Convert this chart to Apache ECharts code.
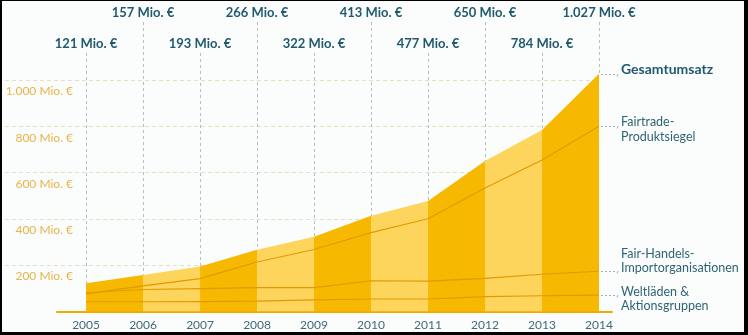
<!DOCTYPE html>
<html>
<head>
<meta charset="utf-8">
<script src="https://cdn.jsdelivr.net/npm/echarts@6/dist/echarts.min.js"></script>
<style>
  html, body { margin: 0; padding: 0; background: #fbfdfd; }
  #chart { width: 748px; height: 335px; }
</style>
</head>
<body>
<div id="chart"></div>
<script>
// Umsatz mit fair gehandelten Produkten in Deutschland, Mio. €
const years = [2005, 2006, 2007, 2008, 2009, 2010, 2011, 2012, 2013, 2014];
const totalSales = [121, 157, 193, 266, 322, 413, 477, 650, 784, 1027];
const fairtradeSeal = [75, 110, 141, 213, 267, 340, 400, 533, 654, 800];
const importOrgs = [80, 94, 98, 102, 102, 132, 130, 142, 160, 173];
const worldShops = [41, 41, 42, 44, 49, 53, 53, 63, 67, 70];
const yTicks = [200, 400, 600, 800, 1000];
const seriesNames = [
  'Gesamtumsatz',
  'Fairtrade-\nProduktsiegel',
  'Fair-Handels-\nImportorganisationen',
  'Weltläden &\nAktionsgruppen'
];

const DARK = '#f6b800';
const LIGHT = '#fdd55c';
const LINE = '#e39a00';
const TEAL = '#215a6e';
const TEXT = '#2f6474';

// German thousands separator
function fmt(n) {
  return String(n).replace(/\B(?=(\d{3})+(?!\d))/g, '.');
}

// Alternating bands: one filled segment per year interval
const bandSeries = years.slice(0, -1).map((y, i) => ({
  type: 'line',
  xAxisIndex: 1,
  yAxisIndex: 1,
  clip: false,
  silent: true,
  symbol: 'none',
  data: [[years[i], totalSales[i]], [years[i + 1], totalSales[i + 1]]],
  lineStyle: { width: 0 },
  areaStyle: { color: i % 2 ? LIGHT : DARK, opacity: 1 },
  z: 1
}));

const componentSeries = [fairtradeSeal, importOrgs, worldShops].map(arr => ({
  type: 'line',
  xAxisIndex: 1,
  yAxisIndex: 1,
  silent: true,
  symbol: 'none',
  data: years.map((y, i) => [y, arr[i]]),
  lineStyle: { color: LINE, width: 1.2 },
  z: 3
}));

// Value callouts above each year, alternating between two rows
const totalLabels = {
  type: 'custom',
  xAxisIndex: 1,
  yAxisIndex: 1,
  clip: false,
  silent: true,
  z: 4,
  data: years.map((y, i) => [y, totalSales[i]]),
  renderItem(params, api) {
    const i = params.dataIndex;
    const p = api.coord([api.value(0), api.value(1)]);
    const x = Math.round(p[0]) + 0.5;
    const textY = i % 2 ? 13 : 44;
    return {
      type: 'group',
      children: [
        {
          type: 'line',
          shape: { x1: x, y1: textY + 9, x2: x, y2: p[1] },
          style: { stroke: '#b7bdbd', lineWidth: 1, lineDash: [3, 3] }
        },
        {
          type: 'text',
          x: p[0],
          y: textY,
          style: {
            text: fmt(api.value(1)) + ' Mio. €',
            align: 'center',
            verticalAlign: 'middle',
            font: 'bold 13px Lato',
            fill: TEAL
          }
        }
      ]
    };
  }
};

// Series names at the right end, each with a short dashed leader
const endLabelLayout = [
  { font: 'bold 14px Lato', fill: TEAL, dy: -4.5, valign: 'middle' },
  { font: '12.5px Lato', fill: TEXT, dy: -11.5, valign: 'top' },
  { font: '12.5px Lato', fill: TEXT, dy: -25, valign: 'top' },
  { font: '12.5px Lato', fill: TEXT, dy: -10.5, valign: 'top' }
];
const lastIdx = years.length - 1;
const endLabels = {
  type: 'custom',
  xAxisIndex: 1,
  yAxisIndex: 1,
  clip: false,
  silent: true,
  z: 4,
  data: [totalSales, fairtradeSeal, importOrgs, worldShops].map((arr, k) => [years[lastIdx], arr[lastIdx], k]),
  renderItem(params, api) {
    const k = api.value(2);
    const p = api.coord([api.value(0), api.value(1)]);
    const L = endLabelLayout[k];
    const y = Math.round(p[1]) + 0.5;
    return {
      type: 'group',
      children: [
        {
          type: 'line',
          shape: { x1: p[0] + 2, y1: y, x2: p[0] + 18, y2: y },
          style: { stroke: '#9fb0b5', lineWidth: 1, lineDash: [2, 2] }
        },
        {
          type: 'line',
          shape: { x1: p[0] + 19, y1: y - 0.5, x2: p[0] + 18, y2: y + 2 },
          style: { stroke: '#9fb0b5', lineWidth: 1 }
        },
        {
          type: 'text',
          x: p[0] + 22,
          y: p[1] + L.dy,
          style: {
            text: seriesNames[k],
            align: 'left',
            verticalAlign: L.valign,
            font: L.font,
            lineHeight: 14.5,
            fill: L.fill
          }
        }
      ]
    };
  }
};

const chart = echarts.init(document.getElementById('chart'), null, { renderer: 'canvas' });

chart.setOption({
  backgroundColor: '#fbfdfd',
  animation: false,
  grid: [
    { left: 5, right: 149, top: 80, bottom: 23.75 },
    { left: 57, right: 136, top: 80, bottom: 23.75 }
  ],
  xAxis: [
    { gridIndex: 0, type: 'value', min: 0, max: 1, show: false },
    {
      gridIndex: 1,
      type: 'value',
      min: 2004.49,
      max: 2014.228,
      axisLine: { show: true, onZero: false, lineStyle: { color: '#f2aa00', width: 2 } },
      axisTick: { show: false },
      splitLine: { show: false },
      axisLabel: {
        customValues: years,
        formatter: v => String(v),
        margin: 8,
        color: '#41697a',
        fontFamily: 'Lato',
        fontSize: 12
      }
    }
  ],
  yAxis: [
    {
      gridIndex: 0,
      type: 'value',
      min: 0,
      max: 1000,
      interval: 200,
      axisLine: { show: false },
      axisTick: { show: false },
      splitLine: {
        show: true,
        showMinLine: false,
        lineStyle: { color: '#e8dec2', type: [4, 3], width: 1 }
      },
      axisLabel: {
        margin: -68,
        align: 'right',
        verticalAlign: 'top',
        lineHeight: 23,
        color: '#e6b548',
        fontFamily: 'Lato',
        fontSize: 12,
        formatter: v => (yTicks.includes(v) ? fmt(v) + ' Mio. €' : '')
      }
    },
    { gridIndex: 1, type: 'value', min: 0, max: 1000, show: false }
  ],
  graphic: [
    { type: 'rect', shape: { x: 0, y: 0, width: 2, height: 335 }, style: { fill: '#000' }, z: 100 },
    { type: 'rect', shape: { x: 0, y: 0, width: 748, height: 1 }, style: { fill: '#000' }, z: 100 },
    { type: 'rect', shape: { x: 744, y: 0, width: 4, height: 335 }, style: { fill: '#000' }, z: 100 },
    { type: 'rect', shape: { x: 0, y: 332, width: 748, height: 3 }, style: { fill: '#000' }, z: 100 }
  ],
  series: [...bandSeries, ...componentSeries, totalLabels, endLabels]
});
</script>
</body>
</html>
